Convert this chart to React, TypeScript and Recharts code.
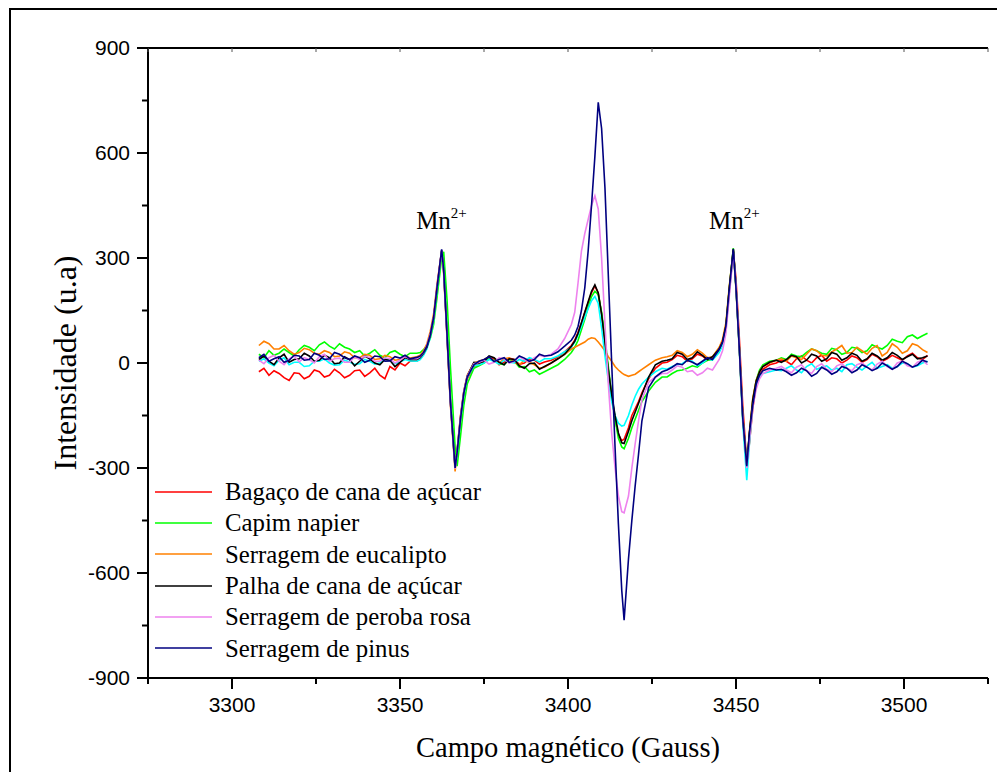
import React from 'react';
import { LineChart, Line, XAxis, YAxis, Legend, ReferenceDot, Label } from 'recharts';

// Magnetic field (Gauss) sample positions shared by all spectra
const FIELD = [
  // baseline before first Mn2+ line
  3308, 3309.5, 3311, 3312.5, 3314, 3315.5, 3317, 3318.5, 3320, 3321.5, 3323, 3324.5, 3326, 3327.5, 3329, 3330.5,
  3332, 3333.5, 3335, 3336.5, 3338, 3339.5, 3341, 3342.5, 3344, 3345.5, 3347, 3348.5, 3350, 3351.5, 3353,
  // first Mn2+ line
  3355, 3356, 3357, 3358, 3359, 3360, 3361, 3362.4, 3363, 3364, 3365, 3366.4, 3367, 3368, 3369, 3370, 3372,
  // baseline
  3373.5, 3375, 3376.5, 3378, 3379.5, 3381, 3382.5, 3384, 3385.5, 3387, 3388.5, 3390, 3391.5, 3393,
  // central signal
  3395, 3397, 3399, 3401, 3402, 3403, 3404, 3405, 3406, 3407, 3408, 3409, 3410, 3411, 3412, 3413, 3414, 3415, 3416, 3416.7,
  3418, 3419, 3420, 3421, 3422, 3424, 3426, 3428,
  // baseline
  3429.5, 3431, 3432.5, 3434, 3435.5, 3437, 3438.5, 3440, 3441.5, 3443,
  // second Mn2+ line
  3445, 3446, 3447, 3448, 3449.2, 3450, 3451, 3452, 3453.2, 3454, 3455, 3456, 3457, 3458, 3460, 3462,
  // baseline after
  3463.5, 3465, 3466.5, 3468, 3469.5, 3471, 3472.5, 3474, 3475.5, 3477, 3478.5, 3480, 3481.5, 3483, 3484.5,
  3486, 3487.5, 3489, 3490.5, 3492, 3493.5, 3495, 3496.5, 3498, 3499.5, 3501, 3502.5, 3504, 3505.5, 3507,
];

const BAGACO = [
  -25, -15, -35, -22, -30, -42, -50, -28, -30, -45, -38, -20, -25, -40, -35, -18,
  -28, -42, -35, -22, -20, -38, -28, -15, -35, -45, -10, -20, 0, -8, 5,
  5, 12, 25, 45, 78, 128, 210, 320, 270, 90, -100, -295, -265, -170, -90, -45, -10,
  -2, 5, 15, 12, -5, 2, 14, 10, -4, 0, 12, 8, -3, 3,
  8, 18, 32, 50, 65, 88, 115, 145, 172, 200, 220, 200, 140, 60, -20, -95, -160, -205, -222, -218,
  -185, -150, -130, -110, -85, -45, -15, 0,
  2, 10, 22, 18, 5, 12, 25, 20, 8, 15,
  35, 55, 100, 200, 320, 240, 70, -120, -285, -230, -130, -65, -35, -18, -5, 0,
  8, 5, -5, 12, 20, 8, 0, 15, 22, 5, 15, 12, 0, 8, 20,
  15, 2, 10, 25, 18, 5, 12, 22, 15, 8, 20, 28, 15, 10, 22,
];

const CAPIM = [
  25, 15, 35, 22, 28, 40, 30, 20, 38, 50, 45, 35, 52, 60, 48, 40,
  55, 45, 40, 30, 35, 20, 28, 38, 22, 15, 30, 35, 25, 18, 28,
  28, 30, 38, 50, 70, 110, 185, 300, 318, 180, -10, -240, -295, -210, -120, -60, -15,
  -8, 0, 12, 8, -2, -5, 10, 5, -12, -10, -25, -20, -32, -25,
  -15, -5, 10, 30, 45, 65, 95, 125, 160, 190, 205, 195, 145, 70, -10, -90, -160, -215, -240, -245,
  -215, -185, -160, -135, -110, -80, -55, -40,
  -40, -30, -22, -20, -15, -8, -12, 0, 8, 10,
  42, 62, 108, 215, 328, 220, 45, -150, -290, -205, -105, -50, -20, -5, 5, 8,
  15, 10, 25, 20, 18, 30, 40, 35, 28, 25, 42, 38, 25, 30, 45,
  42, 30, 35, 52, 45, 40, 50, 68, 62, 58, 75, 80, 70, 78, 85,
];

const EUCALIPTO = [
  50, 62, 55, 40, 40, 50, 35, 25, 30, 42, 38, 28, 25, 35, 30, 18,
  20, 32, 28, 15, 15, 25, 22, 10, 12, 22, 18, 8, 10, 20, 14,
  18, 22, 35, 55, 90, 140, 225, 320, 255, 70, -120, -310, -250, -150, -80, -35, 0,
  5, 10, 18, 5, 0, 12, 15, 2, -5, 8, 2, -5, -15, -12,
  0, 12, 25, 40, 45, 50, 55, 60, 68, 72, 70, 60, 48, 35, 18, 5, -10, -20, -28, -33,
  -38, -35, -32, -25, -18, -5, 8, 15,
  18, 22, 35, 30, 18, 25, 38, 28, 15, 18,
  45, 68, 115, 220, 322, 210, 35, -160, -300, -195, -100, -50, -25, -10, 0, 8,
  12, 5, 20, 15, 10, 25, 40, 35, 22, 20, 32, 40, 50, 28, 30,
  45, 35, 25, 42, 50, 20, 30, 55, 45, 28, 35, 55, 50, 38, 30,
];

const CIANO = [
  5, 12, 0, -8, 8, 15, -5, 2, 2, -10, -8, 5, 5, 12, 0, -6,
  -5, 8, 3, -4, -2, 10, 5, -3, 0, 12, 8, -2, 3, 10, 6,
  5, 10, 22, 40, 72, 122, 205, 318, 268, 85, -105, -300, -262, -165, -90, -42, -8,
  -5, 0, 10, 5, -3, 8, 2, 0, 10, 5, 15, 10, 3, 12,
  12, 20, 32, 45, 60, 80, 105, 130, 155, 178, 190, 170, 100, 20, -50, -110, -150, -172, -180, -178,
  -150, -120, -95, -75, -60, -40, -25, -15,
  -18, -10, -5, -2, 8, 5, -8, 0, 12, 8,
  30, 50, 95, 200, 318, 215, 35, -170, -335, -230, -120, -65, -40, -30, -25, -20,
  -22, -15, -8, -20, -28, -10, -2, -18, -12, -8, -20, -15, -25, -5, -2,
  -12, -20, -8, 2, -15, -10, -5, -15, -10, 0, -2, -12, -8, 0, 5,
];

const PALHA = [
  10, 20, 5, -5, 15, 25, 2, 10, 12, 28, 20, 5, 8, 22, 15, -2,
  0, 18, 10, -8, 5, 20, 12, 0, -5, 10, 8, -10, 2, 15, 10,
  10, 15, 28, 45, 78, 128, 212, 322, 262, 78, -112, -298, -250, -155, -82, -38, 2,
  0, 5, 20, 15, 2, -5, 12, 10, -8, -15, -2, 0, -18, -10,
  0, 12, 25, 48, 62, 85, 115, 145, 175, 205, 223, 200, 140, 60, -20, -90, -150, -200, -228, -230,
  -195, -165, -140, -115, -90, -40, -5, 5,
  8, 12, 30, 25, 10, 15, 32, 22, 10, 18,
  40, 60, 105, 212, 326, 218, 42, -152, -292, -200, -105, -52, -25, -10, 2, 8,
  2, 10, 22, 18, 0, 8, 25, 20, 5, 12, 30, 25, 8, 15, 28,
  22, 5, 12, 28, 20, 8, 15, 30, 22, 10, 18, 25, 12, 15, 20,
];

const PEROBA = [
  8, -2, 15, 22, 5, -5, 12, 20, 3, 15, 10, 0, 18, 25, 6, 12,
  14, 2, 2, 18, 10, 20, 16, 5, 5, 15, 12, 0, 8, 18, 12,
  12, 18, 30, 50, 82, 132, 218, 322, 258, 75, -115, -302, -250, -155, -80, -38, -2,
  2, 8, -3, 2, 15, 12, 0, 5, 18, 10, 3, 15, 22, 18,
  25, 40, 70, 110, 145, 230, 320, 370, 410, 450, 478, 440, 300, 110, -60, -200, -300, -380, -425, -428,
  -380, -300, -230, -165, -105, -55, -40, -30,
  -30, -20, -8, -12, -25, -22, -35, -28, -15, -20,
  10, 35, 85, 190, 315, 225, 45, -150, -300, -220, -125, -75, -45, -30, -20, -15,
  -10, -20, -28, -12, -5, -22, -30, -10, -2, -18, -25, -8, -2, -15, -22,
  -5, 0, -12, -20, -3, 5, -10, -18, 0, 5, -8, -12, 2, 8, -5,
];

const PINUS = [
  15, 25, 5, 12, 18, 2, 8, 22, 20, 8, 10, 28, 22, 10, 12, 30,
  25, 15, 10, 20, 15, 2, 8, 20, 18, 5, 6, 18, 14, 22, 12,
  16, 20, 30, 48, 80, 130, 215, 325, 265, 80, -110, -300, -255, -160, -85, -40, -5,
  5, 10, 18, 4, 10, 15, 2, 6, 20, 14, 5, 10, 25, 20,
  22, 32, 48, 65, 80, 105, 150, 215, 320, 450, 590, 745, 670, 500, 250, 0, -240, -460, -650, -735,
  -560, -450, -350, -260, -165, -70, -40, -25,
  -20, -12, -2, -5, 8, 2, -5, 5, 15, 10,
  40, 60, 105, 210, 325, 215, 40, -155, -295, -200, -120, -60, -35, -22, -15, -20,
  -18, -25, -35, -28, -15, -22, -38, -30, -12, -20, -32, -25, -10, -15, -28,
  -20, -5, -12, -22, -15, 0, -8, -18, -10, 5, -2, -12, -6, 8, 3,
];

const X_TICKS = [3275, 3300, 3325, 3350, 3375, 3400, 3425, 3450, 3475, 3500, 3525];
const Y_TICKS = [-900, -750, -600, -450, -300, -150, 0, 150, 300, 450, 600, 750, 900];
const MN_X = [3354.8, 3442];
const MN_Y = 384;

const SERIES = [
  { key: 'bagaco', name: 'Bagaço de cana de açúcar', color: '#ff0000', values: BAGACO, legend: true },
  { key: 'capim', name: 'Capim napier', color: '#00ff00', values: CAPIM, legend: true },
  { key: 'eucalipto', name: 'Serragem de eucalipto', color: '#ff8000', values: EUCALIPTO, legend: true },
  { key: 'ciano', name: 'ciano', color: '#00ffff', values: CIANO, legend: false },
  { key: 'palha', name: 'Palha de cana de açúcar', color: '#000000', values: PALHA, legend: true },
  { key: 'peroba', name: 'Serragem de peroba rosa', color: '#ee82ee', values: PEROBA, legend: true },
  { key: 'pinus', name: 'Serragem de pinus', color: '#000080', values: PINUS, legend: true },
];

const LEGEND_ORDER = ['bagaco', 'capim', 'eucalipto', 'palha', 'peroba', 'pinus'];

const data = FIELD.map((f, i) => {
  const row: Record<string, number> = { field: f };
  SERIES.forEach((s) => {
    row[s.key] = s.values[i];
  });
  return row;
});

const SERIF = '"Liberation Serif", "Times New Roman", Times, serif';
const SANS = '"Liberation Sans", Arial, Helvetica, sans-serif';

const XTickBottom = (props: any) => {
  const { x, y, payload } = props;
  const major = payload.value % 50 === 0;
  return (
    <g>
      <line x1={x} y1={y} x2={x} y2={y + (major ? 11 : 6)} stroke="#000" strokeWidth={2} />
      {major && (
        <text x={x} y={y + 34} textAnchor="middle" fontFamily={SANS} fontSize={21} fill="#000">
          {payload.value}
        </text>
      )}
    </g>
  );
};

const YTickLeft = (props: any) => {
  const { x, y, payload } = props;
  const major = payload.value % 300 === 0;
  return (
    <g>
      <line x1={x} y1={y} x2={x - (major ? 11 : 6)} y2={y} stroke="#000" strokeWidth={2} />
      {major && (
        <text x={x - 18} y={y + 7} textAnchor="end" fontFamily={SANS} fontSize={21} fill="#000">
          {payload.value}
        </text>
      )}
    </g>
  );
};

const XTickTop = (props: any) => {
  const { x, y } = props;
  return <line x1={x} y1={y} x2={x} y2={y + 4} stroke="#555" strokeWidth={1} />;
};

const YTickRight = (props: any) => {
  const { x, y } = props;
  return <line x1={x} y1={y} x2={x - 4} y2={y} stroke="#555" strokeWidth={1} />;
};

const XTitle = (props: any) => {
  const vb = props.viewBox || { x: 140, y: 670, width: 840, height: 60 };
  return (
    <text
      x={vb.x + vb.width / 2}
      y={vb.y + 79}
      textAnchor="middle"
      fontFamily={SERIF}
      fontSize={28.5}
      fill="#000"
    >
      Campo magnético (Gauss)
    </text>
  );
};

const YTitle = (props: any) => {
  const vb = props.viewBox || { x: 80, y: 40, width: 60, height: 630 };
  const cx = vb.x - 12;
  const cy = vb.y + vb.height / 2;
  return (
    <text
      x={cx}
      y={cy}
      transform={`rotate(-90, ${cx}, ${cy})`}
      textAnchor="middle"
      fontFamily={SERIF}
      fontSize={32}
      fill="#000"
    >
      Intensidade (u.a)
    </text>
  );
};

const MnShape = (props: any) => (
  <text x={props.cx} y={props.cy} fontFamily={SERIF} fontSize={25} fill="#000">
    Mn
    <tspan fontSize={15} dy={-11}>
      2+
    </tspan>
  </text>
);

const renderLegend = () => (
  <div style={{ fontFamily: SERIF, fontSize: 24.8, color: '#000' }}>
    {LEGEND_ORDER.map((k) => {
      const s = SERIES.find((t) => t.key === k)!;
      return (
        <div key={k} style={{ display: 'flex', alignItems: 'center', height: 31.3 }}>
          <svg width={57} height={4} style={{ marginRight: 13, display: 'block' }}>
            <line x1={0} y1={2} x2={57} y2={2} stroke={s.color} strokeWidth={1.5} />
          </svg>
          <span style={{ whiteSpace: 'nowrap', lineHeight: '31px' }}>{s.name}</span>
        </div>
      );
    })}
  </div>
);

export default function App() {
  return (
    <div style={{ position: 'relative', width: 997, height: 764 }}>
      <style>{'html,body{overflow:hidden}'}</style>
      <div
        style={{
          position: 'absolute',
          left: 1,
          top: 0,
          width: 996,
          height: 764,
          borderTop: '2px solid #000',
          borderLeft: '2px solid #000',
          boxSizing: 'border-box',
          pointerEvents: 'none',
        }}
      />
      <LineChart
        width={997}
        height={764}
        data={data}
        margin={{ top: 39, right: 17, left: 80, bottom: 34 }}
      >
        <XAxis
          type="number"
          dataKey="field"
          domain={[3275, 3525]}
          ticks={X_TICKS}
          interval={0}
          tickSize={0}
          tickMargin={0}
          tickLine={false}
          tick={XTickBottom}
          axisLine={{ stroke: '#000', strokeWidth: 2 }}
          height={60}
          allowDataOverflow
        >
          <Label content={XTitle} />
        </XAxis>
        <XAxis
          xAxisId="top"
          orientation="top"
          type="number"
          dataKey="field"
          domain={[3275, 3525]}
          ticks={X_TICKS}
          interval={0}
          tickSize={0}
          tickMargin={0}
          tickLine={false}
          tick={XTickTop}
          axisLine={{ stroke: '#000', strokeWidth: 2 }}
          height={1}
          allowDataOverflow
        />
        <YAxis
          type="number"
          domain={[-900, 900]}
          ticks={Y_TICKS}
          interval={0}
          tickSize={0}
          tickMargin={0}
          tickLine={false}
          tick={YTickLeft}
          axisLine={{ stroke: '#000', strokeWidth: 2 }}
          width={60}
          allowDataOverflow
        >
          <Label content={YTitle} />
        </YAxis>
        <YAxis
          yAxisId="right"
          orientation="right"
          type="number"
          domain={[-900, 900]}
          ticks={Y_TICKS}
          interval={0}
          tickSize={0}
          tickMargin={0}
          tickLine={false}
          tick={YTickRight}
          axisLine={{ stroke: '#000', strokeWidth: 2 }}
          width={0}
          allowDataOverflow
        />
        {SERIES.map((s) => (
          <Line
            key={s.key}
            type="linear"
            dataKey={s.key}
            name={s.name}
            stroke={s.color}
            strokeWidth={1.6}
            dot={false}
            activeDot={false}
            isAnimationActive={false}
            legendType={s.legend ? 'line' : 'none'}
          />
        ))}
        {MN_X.map((mx) => (
          <ReferenceDot key={mx} x={mx} y={MN_Y} r={0} shape={MnShape} ifOverflow="visible" />
        ))}
        <Legend
          layout="vertical"
          align="center"
          verticalAlign="middle"
          content={renderLegend}
          wrapperStyle={{ left: 147, top: 468, width: 'auto', height: 'auto' }}
        />
      </LineChart>
    </div>
  );
}
